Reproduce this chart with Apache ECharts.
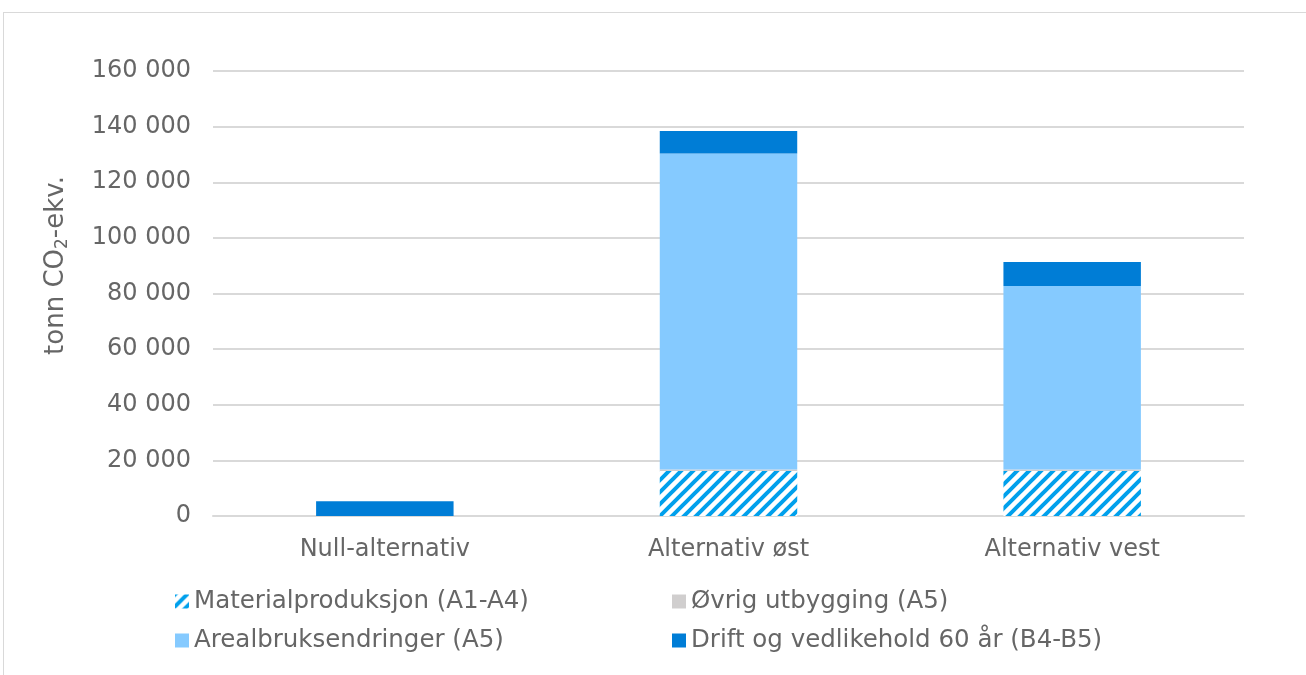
<!DOCTYPE html>
<html>
<head>
<meta charset="utf-8">
<script src="https://cdn.jsdelivr.net/npm/echarts@6/dist/echarts.min.js"></script>
<style>
  html, body { margin: 0; padding: 0; background: #fff; overflow: hidden; }
  #frame { position: absolute; left: 3px; top: 12px; width: 1400px; height: 800px;
           border-top: 1px solid #d9d9d9; border-left: 1px solid #d9d9d9; box-sizing: border-box; }
  #chart { position: absolute; left: 0; top: 0; width: 1306px; height: 675px; }
</style>
</head>
<body>
<div id="frame"></div>
<div id="chart"></div>
<script>
// Alternatives compared (tonn CO2-ekv.)
const categories = ['Null-alternativ', 'Alternativ øst', 'Alternativ vest'];
const materialproduksjon = [0, 16200, 16200];
const ovrigUtbygging = [0, 500, 500];
const arealbruk = [0, 113600, 66000];
const driftVedlikehold = [5300, 8100, 8600];

const seriesNames = [
  'Materialproduksjon (A1-A4)',
  'Øvrig utbygging (A5)',
  'Arealbruksendringer (A5)',
  'Drift og vedlikehold 60 år (B4-B5)'
];

const yMax = 160000;
const yStep = 20000;

// diagonal hatch used for the material production share
function hatchPattern() {
  const s = 12;
  const c = document.createElement('canvas');
  c.width = s; c.height = s;
  const g = c.getContext('2d');
  g.fillStyle = '#ffffff';
  g.fillRect(0, 0, s, s);
  g.strokeStyle = '#00a0ec';
  g.lineWidth = 4;
  g.beginPath();
  g.moveTo(-2, s + 2); g.lineTo(s + 2, -2);
  g.moveTo(-2, 2); g.lineTo(2, -2);
  g.moveTo(s - 2, s + 2); g.lineTo(s + 2, s - 2);
  g.stroke();
  return { image: c, repeat: 'repeat' };
}

const fmt = v => String(v).replace(/\B(?=(\d{3})+(?!\d))/g, ' ');
const textColor = '#666666';
const fontFamily = 'DejaVu Sans, Verdana, sans-serif';

const chart = echarts.init(document.getElementById('chart'), null, { renderer: 'canvas' });

const colors = [hatchPattern(), '#d0cece', '#85caff', '#007dd6'];
const values = [materialproduksjon, ovrigUtbygging, arealbruk, driftVedlikehold];

const legendBase = {
  orient: 'vertical',
  top: 589,
  padding: 0,
  itemWidth: 14,
  itemHeight: 14,
  itemGap: 14,
  icon: 'rect',
  textStyle: { color: textColor, fontSize: 24.5, fontFamily: fontFamily }
};

chart.setOption({
  animation: false,
  textStyle: { fontFamily: fontFamily },
  grid: { left: 213, right: 62, top: 71, bottom: 159 },
  legend: [
    Object.assign({ left: 175, data: [seriesNames[0], seriesNames[2]] }, legendBase),
    Object.assign({ left: 672, data: [seriesNames[1], seriesNames[3]] }, legendBase)
  ],
  xAxis: {
    type: 'category',
    data: categories,
    axisLine: { lineStyle: { color: '#d9d9d9', width: 2 } },
    axisTick: { show: false },
    axisLabel: { color: textColor, fontSize: 24, margin: 22, fontFamily: fontFamily }
  },
  yAxis: {
    type: 'value',
    min: 0,
    max: yMax,
    interval: yStep,
    name: '{a|tonn CO}{s|2}{a|-ekv.}',
    nameLocation: 'middle',
    nameGap: 142,
    nameRotate: 90,
    nameTextStyle: {
      padding: [0, 0, 0, 56],
      rich: {
        a: { color: textColor, fontSize: 26, fontFamily: fontFamily, lineHeight: 30 },
        s: { color: textColor, fontSize: 17, fontFamily: fontFamily, lineHeight: 12, verticalAlign: 'bottom' }
      }
    },
    axisLine: { show: false },
    axisTick: { show: false },
    axisLabel: { color: textColor, fontSize: 24, margin: 22, fontFamily: fontFamily, formatter: fmt },
    splitLine: { lineStyle: { color: '#d9d9d9', width: 2 } }
  },
  series: seriesNames.map((name, i) => ({
    name: name,
    type: 'bar',
    stack: 'total',
    barWidth: '40%',
    data: values[i],
    itemStyle: { color: colors[i] },
    emphasis: { disabled: true }
  }))
});
</script>
</body>
</html>
